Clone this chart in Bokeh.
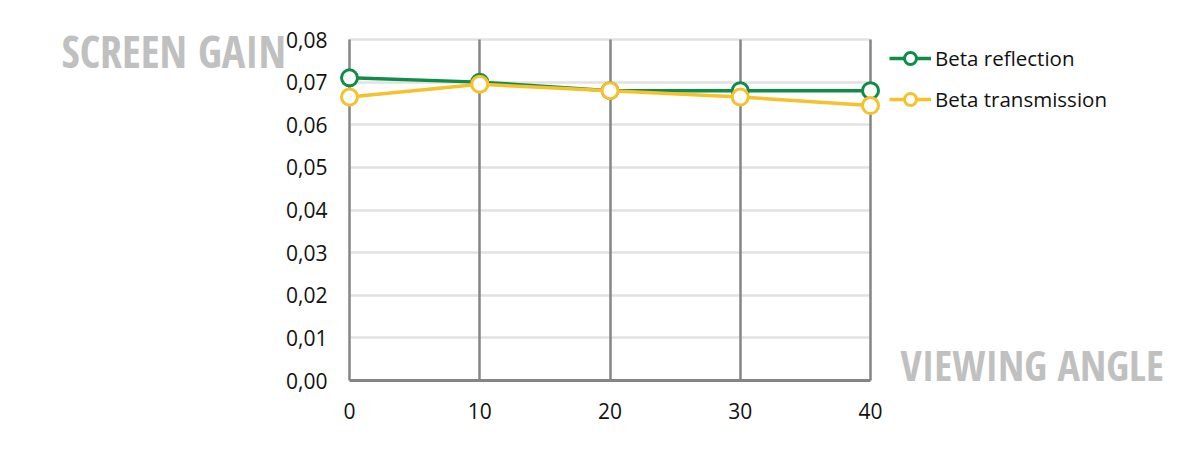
from bokeh.plotting import figure
from bokeh.models import (Legend, LegendItem, FixedTicker, Label, CustomJSTickFormatter,
                          LinearAxis, Grid, Range1d)
from bokeh.embed import file_html
from bokeh.resources import INLINE

angles = [0, 10, 20, 30, 40]
beta_reflection = [0.071, 0.070, 0.068, 0.068, 0.068]
beta_transmission = [0.0665, 0.0695, 0.068, 0.0665, 0.0645]
y_ticks = [0.0, 0.01, 0.02, 0.03, 0.04, 0.05, 0.06, 0.07, 0.08]
x_ticks = [0, 10, 20, 30, 40]

GREEN = "#0f8c47"
YELLOW = "#f6c12b"
DARKGRID = "#858585"
FONT = "Open Sans"
TITLE_FONT = "Open Sans Condensed"

W, H = 1184, 435
# frame covers whole figure; data area placed by range padding
X0_PX, X40_PX = 349, 870
Y0_PX, Y8_PX = 380, 39
xs = 40 / (X40_PX - X0_PX)
ys = 0.08 / (Y0_PX - Y8_PX)
x_range = Range1d(-X0_PX * xs, 40 + (W - X40_PX) * xs)
y_range = Range1d(-(H - Y0_PX) * ys, 0.08 + Y8_PX * ys)

p = figure(width=W, height=H, output_backend="svg", toolbar_location=None,
           x_range=x_range, y_range=y_range, x_axis_location=None, y_axis_location=None,
           min_border_left=0, min_border_top=0, min_border_right=0, min_border_bottom=0)
p.outline_line_color = None
p.background_fill_color = "white"
p.grid.visible = False

xaxis = LinearAxis(fixed_location=0, bounds=(0, 40), ticker=FixedTicker(ticks=x_ticks))
yaxis = LinearAxis(fixed_location=0, bounds=(0, 0.08), ticker=FixedTicker(ticks=y_ticks))
yaxis.formatter = CustomJSTickFormatter(code="return tick.toFixed(2).replace('.', ',');")
for ax in (xaxis, yaxis):
    ax.major_tick_line_color = None
    ax.minor_tick_line_color = None
    ax.major_tick_out = 0
    ax.major_tick_in = 0
    ax.minor_tick_out = 0
    ax.major_label_text_font = FONT
    ax.major_label_text_font_size = "21px"
    ax.major_label_text_color = "#111111"
yaxis.axis_line_color = None
yaxis.major_label_standoff = 22
xaxis.axis_line_color = DARKGRID
xaxis.axis_line_width = 3
xaxis.major_label_standoff = 22

xgrid = Grid(dimension=0, axis=xaxis, ticker=FixedTicker(ticks=x_ticks),
             cross_bounds=(0, 0.08), grid_line_color=DARKGRID, grid_line_width=2.5)
ygrid = Grid(dimension=1, axis=yaxis, ticker=FixedTicker(ticks=y_ticks),
             cross_bounds=(0, 40), grid_line_color="#e2e2e2", grid_line_width=2.5)
p.add_layout(ygrid)
p.add_layout(xgrid)
p.add_layout(xaxis, "below")
p.add_layout(yaxis, "left")

r1 = p.line(angles, beta_reflection, line_color=GREEN, line_width=3.5)
c1 = p.scatter(angles, beta_reflection, size=16, marker="circle", fill_color="white",
               line_color=GREEN, line_width=3)
r2 = p.line(angles, beta_transmission, line_color=YELLOW, line_width=3.5)
c2 = p.scatter(angles, beta_transmission, size=16, marker="circle", fill_color="white",
               line_color=YELLOW, line_width=3)

legend = Legend(items=[LegendItem(label="Beta reflection", renderers=[r1, c1]),
                       LegendItem(label="Beta transmission", renderers=[r2, c2])],
                location=(889, H - 114), orientation="vertical")
legend.border_line_color = None
legend.background_fill_alpha = 0
legend.label_text_font = FONT
legend.label_text_font_size = "20.5px"
legend.label_text_color = "#111111"
legend.glyph_width = 42
legend.glyph_height = 30
legend.label_height = 30
legend.spacing = 11
legend.label_standoff = 4
legend.margin = 0
legend.padding = 0
p.add_layout(legend)

p.add_layout(Label(x=61, y=H - 50, x_units="screen", y_units="screen", text="SCREEN GAIN",
                   text_font=TITLE_FONT, text_font_style="bold", text_font_size="44px",
                   text_color="#c0c0c0", text_baseline="middle"))
p.add_layout(Label(x=900, y=H - 364, x_units="screen", y_units="screen", text="VIEWING ANGLE",
                   text_font=TITLE_FONT, text_font_style="bold", text_font_size="42px",
                   text_color="#c0c0c0", text_baseline="middle"))

open("out.html", "w").write(file_html(p, INLINE))
